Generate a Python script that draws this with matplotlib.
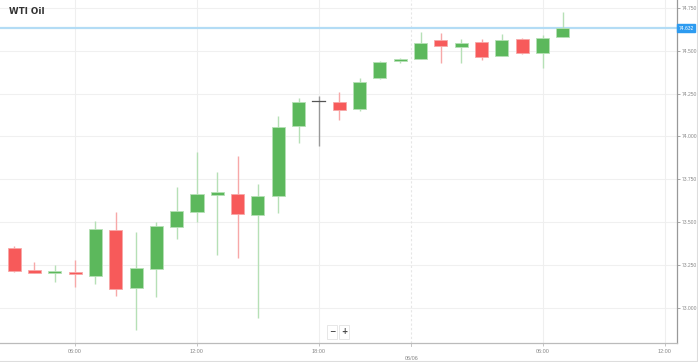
import matplotlib
matplotlib.use("Agg")
import matplotlib.pyplot as plt
from matplotlib.patches import Rectangle

# ---- data (hourly candles) ----
hours = ["03:00", "04:00", "05:00", "06:00", "07:00", "08:00", "09:00", "10:00",
         "11:00", "12:00", "13:00", "14:00", "15:00", "16:00", "17:00", "18:00",
         "19:00", "20:00", "21:00", "22:00", "00:00", "01:00", "02:00", "03:00",
         "04:00", "05:00", "06:00", "07:00"]
opens = [73.350, 73.221, 73.202, 73.208, 73.186, 73.455, 73.113, 73.227,
         73.473, 73.560, 73.656, 73.662, 73.543, 73.652, 74.059, 74.207,
         74.201, 74.158, 74.341, 74.440, 74.450, 74.565, 74.520, 74.550,
         74.471, 74.571, 74.485, 74.579]
highs = [73.360, 73.266, 73.247, 73.278, 73.508, 73.557, 73.440, 73.502,
         73.706, 73.907, 73.794, 73.887, 73.720, 74.119, 74.226, 74.238,
         74.258, 74.341, 74.440, 74.460, 74.608, 74.606, 74.569, 74.569,
         74.596, 74.577, 74.592, 74.725]
lows = [73.210, 73.204, 73.150, 73.119, 73.138, 73.069, 72.869, 73.064,
        73.399, 73.498, 73.307, 73.288, 72.937, 73.551, 73.960, 73.946,
        74.096, 74.150, 74.335, 74.430, 74.450, 74.429, 74.429, 74.446,
        74.471, 74.480, 74.398, 74.579]
closes = [73.216, 73.203, 73.214, 73.194, 73.461, 73.107, 73.230, 73.475,
          73.566, 73.662, 73.675, 73.547, 73.654, 74.057, 74.201, 74.207,
          74.154, 74.316, 74.435, 74.455, 74.544, 74.526, 74.544, 74.466,
          74.565, 74.489, 74.577, 74.632]
last_price = closes[-1]

y_ticks = [73.000, 73.250, 73.500, 73.750, 74.000, 74.250, 74.500, 74.750]
x_tick_pos = [3, 9, 15, 26, 32]
x_tick_labels = ["06:00", "12:00", "18:00", "06:00", "12:00"]
date_tick_pos = 19.55
date_tick_label = "06/06"
title = "WTI Oil"

GREEN = "#5cb85c"
GREEN_W = "#b6e0b6"
RED = "#f75a5a"
RED_W = "#f7a8a8"
DOJI = "#555555"
SMALL_FONT = "Liberation Sans"

W, H = 698, 362
fig = plt.figure(figsize=(W / 100, H / 100), dpi=100)
# axes in pixel terms: left 0, right 677, top 0, bottom 343
ax = fig.add_axes([0, (H - 343) / H, 677 / W, 343 / H])
ax.set_facecolor("white")

ax.set_xlim(-0.69, 32.61)
ax.set_ylim(72.793, 74.797)

# grid
for yt in y_ticks:
    ax.axhline(yt, color="#f0f0f0", lw=0.8, zorder=0)
for xt in x_tick_pos:
    ax.axvline(xt, color="#efefef", lw=0.8, zorder=0)
ax.axvline(date_tick_pos, color="#e6e6e6", lw=0.8, ls=(0, (2, 2)), zorder=0)

bw = 0.64
for i, (o, h, l, c) in enumerate(zip(opens, highs, lows, closes)):
    if c > o:
        col, wcol = GREEN, GREEN_W
    elif c < o:
        col, wcol = RED, RED_W
    else:
        col, wcol = DOJI, "#999999"
    ax.plot([i, i], [l, h], color=wcol, lw=1.0, zorder=2, solid_capstyle="butt")
    if c == o:
        ax.plot([i - bw / 2, i + bw / 2], [o, o], color=DOJI, lw=0.9, zorder=3)
    else:
        lo, hi = min(o, c), max(o, c)
        ax.add_patch(Rectangle((i - bw / 2, lo), bw, hi - lo,
                               facecolor=col, edgecolor=wcol, lw=0.6, zorder=3))

# current price line
ax.axhline(last_price, color="#b3dcf5", lw=1.6, zorder=1)

# spines
for s in ["top", "left"]:
    ax.spines[s].set_visible(False)
ax.spines["right"].set_color("#999999")
ax.spines["bottom"].set_color("#bbbbbb")
ax.spines["right"].set_linewidth(0.9)
ax.spines["bottom"].set_linewidth(0.9)

ax.yaxis.tick_right()
ax.set_yticks(y_ticks)
ax.set_yticklabels([f"{v:.3f}" for v in y_ticks], fontfamily=SMALL_FONT)
ax.tick_params(axis="y", colors="#999999", labelsize=3.6, length=2, width=0.6, pad=1.2,
               labelcolor="#888888")
ax.set_xticks(x_tick_pos)
ax.set_xticklabels(x_tick_labels, fontfamily=SMALL_FONT)
ax.tick_params(axis="x", colors="#bbbbbb", labelsize=4.0, length=2, width=0.6, pad=2,
               labelcolor="#888888")
ax.text(date_tick_pos, -0.045, date_tick_label, transform=ax.get_xaxis_transform(),
        ha="center", va="center", fontsize=4.0, color="#888888", fontfamily=SMALL_FONT)
ax.plot([date_tick_pos, date_tick_pos], [0, -0.008], transform=ax.get_xaxis_transform(),
        color="#bbbbbb", lw=0.6, clip_on=False)

# price label on right axis
ax.text(1.002, last_price, f"{last_price:.3f}", transform=ax.get_yaxis_transform(),
        ha="left", va="center", fontsize=3.6, color="white", fontfamily=SMALL_FONT,
        bbox=dict(boxstyle="square,pad=0.25", fc="#2d9bf0", ec="#2d9bf0"), zorder=5,
        clip_on=False)

# title
fig.text(9 / W, 1 - 11 / H, title, ha="left", va="center", fontsize=6.3,
         fontweight="bold", color="#333333")

# zoom buttons
for x0, sym in [(332, "\u2212"), (344, "+")]:
    fig.text(x0 / W, 1 - 332 / H, sym, ha="center", va="center", fontsize=5.5,
             color="#444444", fontweight="bold",
             bbox=dict(boxstyle="square,pad=0.3", fc="white", ec="#dddddd", lw=0.5))

# figure frame lines (right and bottom)
fig.add_artist(plt.Line2D([0, 1], [1.5 / H, 1.5 / H], transform=fig.transFigure,
                          color="#dddddd", lw=0.8))
fig.add_artist(plt.Line2D([1 - 1.5 / W, 1 - 1.5 / W], [0, 1], transform=fig.transFigure,
                          color="#dddddd", lw=0.8))

fig.savefig("out.png", dpi=100, facecolor="white")
